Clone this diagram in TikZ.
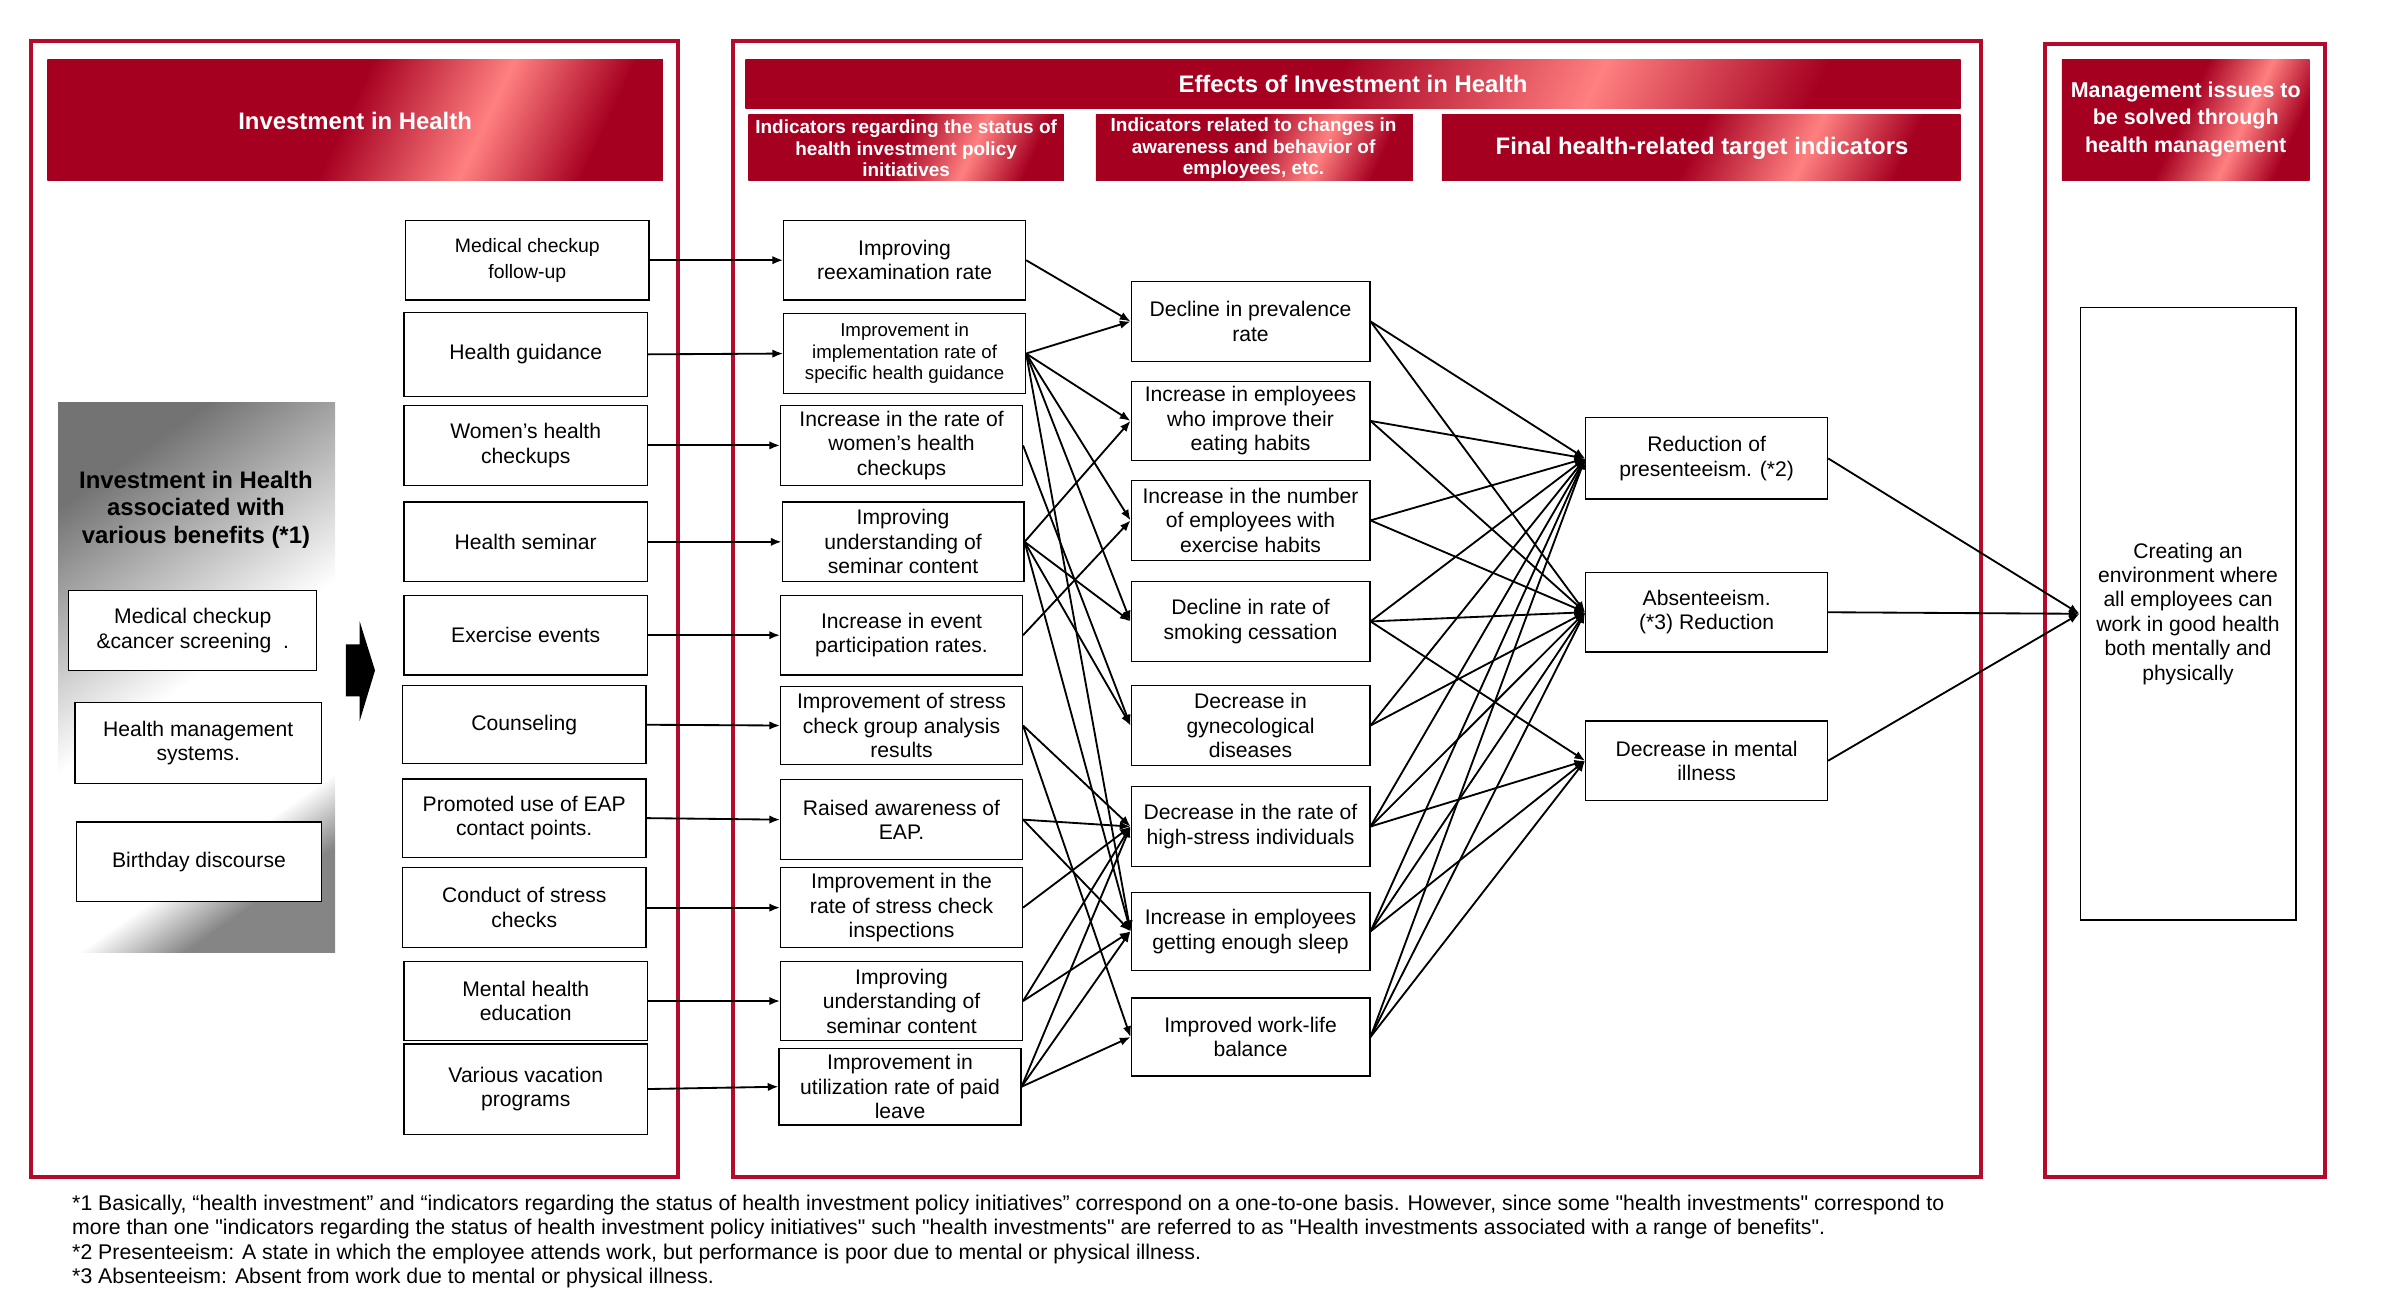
\documentclass[tikz,border=0pt]{standalone}
\usepackage{fontspec}
\setmainfont{Liberation Sans}
\usetikzlibrary{arrows.meta}

\definecolor{framered}{RGB}{180,10,44}
\definecolor{bannerdark}{RGB}{166,0,33}
\definecolor{bannerpink}{RGB}{255,128,128}
\pgfdeclarehorizontalshading{bannershade}{100bp}{color(0bp)=(bannerdark); color(49bp)=(bannerdark); color(63bp)=(bannerpink); color(75bp)=(bannerdark); color(100bp)=(bannerdark)}
\pgfdeclarehorizontalshading{panelshade}{100bp}{color(0bp)=(black!55); color(25bp)=(black!55); color(50bp)=(white); color(68bp)=(white); color(75bp)=(black!48); color(100bp)=(black!48)}
\newcommand{\dq}{\textquotedbl}

\tikzset{
	frame/.style={draw=framered, line width=2.5pt},
	banner/.style={shading=bannershade, shading angle=-25},
	headtext/.style={text=white, align=center, font=\bfseries\fontsize{#1}{14}\selectfont},
	box/.style={draw, line width=0.8pt, fill=white, minimum width=158pt, minimum height=52pt, align=center, inner sep=1pt, font=\fontsize{13.8}{16}\selectfont},
	smallbox/.style={box, font=\fontsize{12.2}{14}\selectfont},
	arr/.style={-{Latex[length=7pt,width=5.5pt]}, line width=1.2pt},
	note/.style={anchor=west, inner sep=0pt, font=\fontsize{13.9}{16}\selectfont}
}

\begin{document}
\begin{tikzpicture}[x=1pt,y=-1pt]
	%%%%% START %%%%%
	\useasboundingbox (0,-1) rectangle (1568,847);
	
	%%%%% frames %%%%%
	\draw[frame] (20,26) rectangle (443,768);
	\draw[frame] (479,26) rectangle (1294,768);
	\draw[frame] (1336,28) rectangle (1519,768);
	
	%%%%% banners %%%%%
	\path[banner] (31,38) rectangle (433,117);
	\node[headtext=15.6] (hinv) at (232,78) {Investment in Health};
	\path[banner] (487,38) rectangle (1281,70);
	\node[headtext=15.6] (heff) at (884,54) {Effects of Investment in Health};
	\path[banner] (489,74) rectangle (695,117);
	\node[headtext=12.4, font=\bfseries\fontsize{12.4}{14}\selectfont, inner sep=0pt] (hstat) at (592,96) {Indicators regarding the status of\\health investment policy\\initiatives};
	\path[banner] (716,74) rectangle (923,117);
	\node[headtext=12.4, font=\bfseries\fontsize{12.4}{14}\selectfont, inner sep=0pt] (hchg) at (819,96) {Indicators related to changes in\\awareness and behavior of\\employees, etc.};
	\path[banner] (942,74) rectangle (1281,117);
	\node[headtext=15.6] (hfin) at (1112,96) {Final health-related target indicators};
	\path[banner] (1347,38) rectangle (1509,117);
	\node[headtext=14, font=\bfseries\fontsize{14}{18}\selectfont] (hman) at (1428,77) {Management issues to\\be solved through\\health management};
	
	%%%%% benefits panel %%%%%
	\path[shading=panelshade, shading angle=-55] (38,262) rectangle (219,621);
	\node[align=center, font=\bfseries\fontsize{15.6}{18}\selectfont] (gtitle) at (128,332) {Investment in Health\\associated with\\various benefits (*1)};
	\node[box, minimum width=162pt] (grp1) at (126,411) {Medical checkup\\\&cancer screening\ \ .};
	\node[box, minimum width=161pt, minimum height=53pt] (grp2) at (129.5,484.5) {Health management\\systems.};
	\node[box, minimum width=160pt] (grp3) at (130,562) {Birthday discourse};
	\fill (226,420) -- (235,420) -- (235,405) -- (245,437) -- (235,470) -- (235,454) -- (226,454) -- cycle;
	
	%%%%% investments %%%%%
	\node[box, minimum width=159pt, font=\fontsize{12.7}{17}\selectfont] (inv1) at (344.5,169) {Medical checkup\\follow-up};
	\node[box, minimum width=159pt, minimum height=55pt] (inv2) at (343.5,230.5) {Health guidance};
	\node[box, minimum width=159pt] (inv3) at (343.5,290) {Women's health\\checkups};
	\node[box, minimum width=159pt] (inv4) at (343.5,353) {Health seminar};
	\node[box, minimum width=159pt] (inv5) at (343.5,414) {Exercise events};
	\node[box, minimum width=159pt, minimum height=51pt] (inv6) at (342.5,472.5) {Counseling};
	\node[box, minimum width=159pt, minimum height=51pt] (inv7) at (342.5,533.5) {Promoted use of EAP\\contact points.};
	\node[box, minimum width=159pt] (inv8) at (342.5,592) {Conduct of stress\\checks};
	\node[box, minimum width=159pt] (inv9) at (343.5,653) {Mental health\\education};
	\node[box, minimum width=159pt, minimum height=59pt] (inv10) at (343.5,710.5) {Various vacation\\programs};
	
	%%%%% policy indicators %%%%%
	\node[box] (ind1) at (591,169) {Improving\\reexamination rate};
	\node[smallbox] (ind2) at (591,230) {Improvement in\\implementation rate of\\specific health guidance};
	\node[box] (ind3) at (589,290) {Increase in the rate of\\women's health\\checkups};
	\node[box] (ind4) at (590,353) {Improving\\understanding of\\seminar content};
	\node[box] (ind5) at (589,414) {Increase in event\\participation rates.};
	\node[box, minimum height=51pt] (ind6) at (589,473) {Improvement of stress\\check group analysis\\results};
	\node[box] (ind7) at (589,534.5) {Raised awareness of\\EAP.};
	\node[box] (ind8) at (589,592) {Improvement in the\\rate of stress check\\inspections};
	\node[box] (ind9) at (589,653) {Improving\\understanding of\\seminar content};
	\node[box, minimum height=50pt] (ind10) at (588,709) {Improvement in\\utilization rate of paid\\leave};
	
	%%%%% awareness and behaviour %%%%%
	\node[box, minimum width=156pt] (beh1) at (817,209) {Decline in prevalence\\rate};
	\node[box, minimum width=156pt] (beh2) at (817,274) {Increase in employees\\who improve their\\eating habits};
	\node[box, minimum width=156pt] (beh3) at (817,339) {Increase in the number\\of employees with\\exercise habits};
	\node[box, minimum width=156pt] (beh4) at (817,405) {Decline in rate of\\smoking cessation};
	\node[box, minimum width=156pt] (beh5) at (817,473) {Decrease in\\gynecological\\diseases};
	\node[box, minimum width=156pt] (beh6) at (817,539) {Decrease in the rate of\\high-stress individuals};
	\node[box, minimum width=156pt, minimum height=51pt] (beh7) at (817,607.5) {Increase in employees\\getting enough sleep};
	\node[box, minimum width=156pt, minimum height=51pt] (beh8) at (817,676.5) {Improved work-life\\balance};
	
	%%%%% final targets %%%%%
	\node[box, minimum height=53pt] (fin1) at (1115,298.5) {Reduction of\\presenteeism. (*2)};
	\node[box] (fin2) at (1115,399) {Absenteeism.\\(*3) Reduction};
	\node[box] (fin3) at (1115,496) {Decrease in mental\\illness};
	
	\node[box, minimum width=141pt, minimum height=400pt] (goal) at (1429.5,400) {Creating an\\environment where\\all employees can\\work in good health\\both mentally and\\physically};
	
	%%%%% arrows %%%%%
	\foreach \i in {1,...,10}
		\draw[arr] (inv\i.east) -- (ind\i.west);
	\foreach \s/\t in {1/1,2/1,2/2,2/3,2/4,2/7,3/5,4/2,4/4,4/5,4/7,5/3,6/6,6/8,7/6,7/7,8/6,9/6,9/7,10/6,10/7,10/8}
		\draw[arr] (ind\s.east) -- (beh\t.west);
	\foreach \s in {1,...,8}{
		\draw[arr] (beh\s.east) -- (fin1.west);
		\draw[arr] (beh\s.east) -- (fin2.west);
	}
	\foreach \s in {4,6,7,8}
		\draw[arr] (beh\s.east) -- (fin3.west);
	\foreach \s in {1,2,3}
		\draw[arr] (fin\s.east) -- (goal.west);
	
	%%%%% notes %%%%%
	\node[note] (note1) at (47,786) {*1 Basically, “health investment” and “indicators regarding the status of health investment policy initiatives” correspond on a one-to-one basis. However, since some \dq health  investments\dq\ correspond to};
	\node[note] (note2) at (47,802) {more than one \dq indicators regarding the status of health investment policy initiatives\dq\ such \dq health investments\dq\ are referred to as \dq Health investments associated with a range of benefits\dq.};
	\node[note] (note3) at (47,818) {*2 Presenteeism: A state in which the employee attends work, but performance is poor due to mental or physical illness.};
	\node[note] (note4) at (47,834) {*3 Absenteeism: Absent from work due to mental or physical illness.};
	%%%%% END %%%%%
\end{tikzpicture}
\end{document}
